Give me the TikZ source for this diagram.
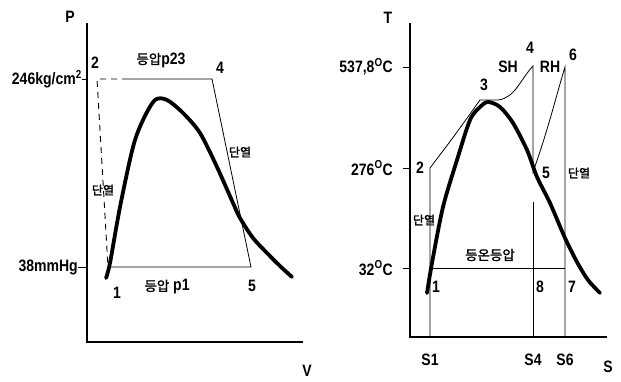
\documentclass[tikz,border=0pt]{standalone}
\usepackage{fontspec}
\setmainfont[FakeStretch=0.85]{Liberation Sans}
\newfontfamily\kr[AutoFakeBold=1.6]{Noto Sans CJK KR}
\newcommand\KR[1]{{\kr\bfseries\fontsize{13.5}{13.5}\selectfont #1}}
\begin{document}
\begin{tikzpicture}[x=1pt,y=-1pt,
  font=\bfseries\fontsize{16.5}{16.5}\selectfont,
  lbl/.style={inner sep=0pt},
  krl/.style={inner sep=0pt,font=\kr\bfseries\fontsize{12}{12}\selectfont},
  axisline/.style={line width=1.8pt},
  thinline/.style={line width=0.8pt},
  dome/.style={line width=3.8pt,line join=round,line cap=round},
  dashline/.style={line width=0.9pt,dash pattern=on 6pt off 5pt}]
\useasboundingbox (0,0) rectangle (621,382);
% ---------- left: P-V ----------
\coordinate (Ltop) at (87,23);
\coordinate (Lorig) at (87,342);
\coordinate (Lend) at (303,342);
\draw[axisline] (Ltop) -- (Lorig) -- (Lend);
\node[lbl] (P) at (70,17) {P};
\node[lbl] (V) at (307,371) {V};
\coordinate (Lt246) at (87,79);
\coordinate (Lt38) at (87,267);
\node[lbl,anchor=east] (l246) at (82,79) {246kg/cm\textsuperscript{2}};
\node[lbl,anchor=east] (l38) at (78,267) {38mmHg};
\draw[thinline] (l246.east) -- (Lt246);
\draw[thinline] (l38.east) -- (Lt38);
\coordinate (p2) at (97,79);
\coordinate (p2b) at (128,79);
\coordinate (p4) at (212,79);
\coordinate (p5) at (251,267);
\coordinate (p1) at (108,267);
\draw[dashline] (p2b) -- (p2) -- (p1);
\draw[thinline] (p2b) -- (p4) -- (p5) -- (p1);
\draw[dome] plot[smooth,tension=0.5] coordinates {(106,278) (110,263) (120,207) (133,147) (143,120) (155,100) (167,100) (183,113) (200,133) (217,167) (233,203) (240,218) (253,238) (267,253) (280,266) (292,277)};
\node[lbl] (n2L) at (95,63) {2};
\node[lbl] (n4L) at (220,68) {4};
\node[lbl] (n1L) at (117,293) {1};
\node[lbl] (n5L) at (252,286) {5};
\node[lbl] (kp23) at (161,60) {\KR{등압}p23};
\node[lbl] (kp1) at (167,287) {\KR{등압} p1};
\node[krl] (kdL1) at (103,190) {단열};
\node[krl] (kdL2) at (240,152) {단열};
% ---------- right: T-S ----------
\coordinate (Rtop) at (410,23);
\coordinate (Rorig) at (410,337);
\coordinate (Rend) at (607,337);
\draw[axisline] (Rtop) -- (Rorig) -- (Rend);
\node[lbl] (T) at (388,18) {T};
\node[lbl] (S) at (608,367) {S};
\coordinate (Rt538) at (410,67);
\coordinate (Rt276) at (410,168);
\coordinate (Rt32) at (410,268);
\node[lbl,anchor=east] (l538) at (393,67) {537,8\textsuperscript{O}C};
\node[lbl,anchor=east] (l276) at (393,168) {276\textsuperscript{O}C};
\node[lbl,anchor=east] (l32) at (393,268) {32\textsuperscript{O}C};
\draw[thinline] (l538.east) ++(10,0) coordinate (a538) -- (Rt538);
\draw[thinline] (l276.east) ++(10,0) coordinate (a276) -- (Rt276);
\draw[thinline] (l32.east) ++(10,0) coordinate (a32) -- (Rt32);
\coordinate (q2) at (430,168);
\coordinate (q3a) at (480,100);
\coordinate (q3b) at (498,100);
\coordinate (q4) at (533,66);
\coordinate (q5) at (533,172);
\coordinate (q5b) at (533,202);
\coordinate (q6) at (565,67);
\coordinate (q1) at (433,268);
\coordinate (q7) at (565,268);
\coordinate (qS1) at (430,337);
\coordinate (qS4) at (533,337);
\coordinate (qS6) at (565,337);
\draw[thinline] (qS1) -- (q2) .. controls (455,135) .. (q3a) -- (q3b) .. controls (515,98) and (520,80) .. (q4) -- (q5) .. controls (548,130) and (555,100) .. (q6) -- (qS6);
\draw[thinline] (q5b) -- (qS4);
\draw[thinline] (q1) -- (q7);
\draw[dome] plot[smooth,tension=0.5] coordinates {(427,293) (432,263) (443,207) (457,160) (470,120) (480,107) (488,102) (500,107) (513,123) (527,150) (537,177) (550,203) (565,238) (577,262) (588,280) (600,293)};
\node[lbl] (n2R) at (420,168) {2};
\node[lbl] (n3R) at (484,85) {3};
\node[lbl] (n4R) at (530,48) {4};
\node[lbl] (nSH) at (508,67) {SH};
\node[lbl] (nRH) at (550,67) {RH};
\node[lbl] (n6R) at (573,55) {6};
\node[lbl] (n5R) at (546,173) {5};
\node[lbl] (n1R) at (436,287) {1};
\node[lbl] (n8R) at (540,287) {8};
\node[lbl] (n7R) at (572,287) {7};
\node[lbl] (nS1) at (430,360) {S1};
\node[lbl] (nS4) at (533,360) {S4};
\node[lbl] (nS6) at (565,360) {S6};
\node[lbl] (kiso) at (490,255) {\KR{등온등압}};
\node[krl] (kdR1) at (424,220) {단열};
\node[krl] (kdR2) at (579,173) {단열};
\end{tikzpicture}
\end{document}
